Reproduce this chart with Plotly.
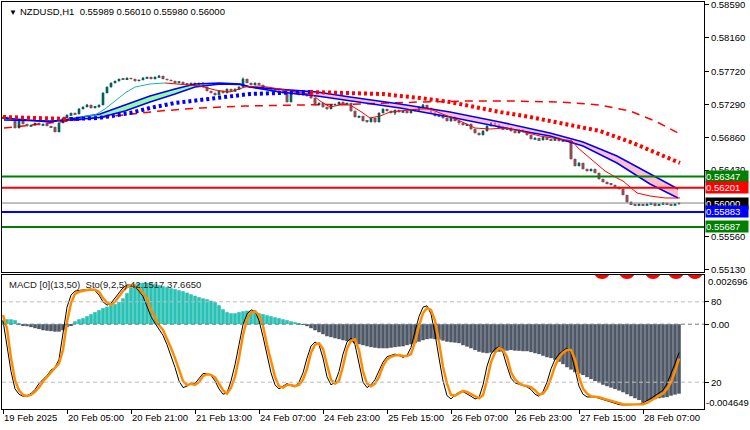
import plotly.graph_objects as go

# ---------------- data ----------------
time_tick_idx = [0, 16, 32, 48, 64, 80, 96, 112, 128, 144, 160]
time_tick_text = ["19 Feb 2025", "20 Feb 05:00", "20 Feb 21:00", "21 Feb 13:00",
                  "24 Feb 07:00", "24 Feb 23:00", "25 Feb 15:00", "26 Feb 07:00",
                  "26 Feb 23:00", "27 Feb 15:00", "28 Feb 07:00"]
price_ticks = [0.58590, 0.58160, 0.57720, 0.57290, 0.56860, 0.56430, 0.55560, 0.55130]

first_open = 0.57110
close = [
    0.57125, 0.57112, 0.57099, 0.56981, 0.57073, 0.57034, 0.57007, 0.57020, 0.57047, 0.57020,
    0.57034, 0.57007, 0.56994, 0.56929, 0.57047, 0.57112, 0.57151, 0.57177, 0.57164, 0.57230,
    0.57256, 0.57282, 0.57243, 0.57256, 0.57282, 0.57439, 0.57517, 0.57570, 0.57596, 0.57622,
    0.57615, 0.57635, 0.57622, 0.57596, 0.57609, 0.57635, 0.57648, 0.57622, 0.57648, 0.57661,
    0.57622, 0.57609, 0.57596, 0.57570, 0.57583, 0.57557, 0.57544, 0.57570, 0.57544, 0.57570,
    0.57517, 0.57465, 0.57439, 0.57413, 0.57465, 0.57439, 0.57491, 0.57465, 0.57491, 0.57517,
    0.57622, 0.57570, 0.57544, 0.57570, 0.57544, 0.57491, 0.57504, 0.57465, 0.57478, 0.57439,
    0.57465, 0.57321, 0.57452, 0.57426, 0.57413, 0.57439, 0.57400, 0.57374, 0.57282, 0.57308,
    0.57256, 0.57230, 0.57282, 0.57295, 0.57321, 0.57295, 0.57308, 0.57204, 0.57125, 0.57138,
    0.57073, 0.57060, 0.57112, 0.57060, 0.57177, 0.57230, 0.57204, 0.57177, 0.57217, 0.57190,
    0.57204, 0.57177, 0.57217, 0.57204, 0.57256, 0.57282, 0.57243, 0.57177, 0.57138, 0.57151,
    0.57112, 0.57073, 0.57125, 0.57073, 0.57047, 0.57020, 0.57034, 0.56968, 0.56916, 0.56890,
    0.56942, 0.57007, 0.57047, 0.57020, 0.56994, 0.56968, 0.56981, 0.56942, 0.56916, 0.56955,
    0.56929, 0.56890, 0.56837, 0.56850, 0.56824, 0.56863, 0.56837, 0.56824, 0.56850, 0.56811,
    0.56824, 0.56811, 0.56576, 0.56484, 0.56524, 0.56445, 0.56419, 0.56445, 0.56393, 0.56314,
    0.56275, 0.56249, 0.56236, 0.56210, 0.56183, 0.56105, 0.56013, 0.55987, 0.55974, 0.55987,
    0.55974, 0.55987, 0.56000, 0.55974, 0.55987, 0.56000, 0.55987, 0.55974, 0.55989, 0.56000,
]
# wick lengths beyond the body, in points (0.00001)
wick_up_pts = [
    5, 6, 4, 6, 8, 5, 4, 8, 5, 6,   6, 5, 4, 6, 10, 8, 8, 6, 8, 12,
    10, 14, 8, 10, 8, 10, 8, 8, 6, 6,   6, 8, 6, 6, 8, 12, 6, 6, 8, 14,
    6, 6, 8, 6, 6, 8, 6, 6, 8, 6,   12, 6, 6, 8, 6, 6, 8, 6, 8, 10,
    18, 8, 6, 8, 6, 6, 8, 6, 6, 6,   10, 14, 8, 6, 6, 8, 6, 6, 6, 8,
    6, 6, 8, 6, 6, 8, 6, 6, 8, 6,   6, 8, 6, 6, 10, 8, 6, 8, 6, 6,
    8, 6, 6, 8, 6, 14, 6, 6, 8, 6,   6, 8, 6, 6, 8, 6, 6, 8, 6, 6,
    10, 8, 6, 6, 8, 6, 6, 8, 6, 6,   8, 6, 6, 10, 6, 6, 8, 6, 12, 6,
    6, 8, 14, 8, 10, 6, 8, 6, 6, 8,   6, 8, 6, 6, 8, 6, 6, 10, 6, 8,
    6, 12, 8, 6, 6, 10, 6, 6, 8, 10,
]
wick_dn_pts = [
    6, 5, 6, 8, 6, 8, 10, 6, 8, 6,   8, 6, 10, 8, 6, 5, 6, 8, 6, 6,
    8, 6, 10, 6, 8, 6, 6, 8, 6, 8,   6, 6, 8, 10, 6, 6, 8, 6, 6, 8,
    6, 8, 6, 10, 6, 8, 6, 8, 6, 8,   10, 8, 6, 10, 6, 8, 6, 8, 6, 6,
    8, 6, 8, 6, 8, 10, 6, 8, 14, 6,   8, 10, 6, 8, 6, 8, 10, 12, 8, 6,
    10, 12, 6, 8, 6, 8, 6, 12, 10, 8,   10, 12, 6, 14, 8, 6, 8, 6, 24, 8,
    6, 8, 6, 8, 6, 6, 8, 10, 8, 6,   12, 8, 10, 6, 24, 8, 10, 12, 10, 8,
    6, 8, 6, 10, 8, 6, 8, 10, 6, 8,   8, 10, 8, 6, 10, 8, 6, 8, 6, 8,
    6, 8, 10, 8, 6, 8, 10, 6, 8, 10,   8, 6, 8, 10, 8, 6, 10, 8, 6, 8,
    10, 8, 6, 16, 8, 6, 8, 10, 6, 9,
]

# slow moving average drawn as big dots (trend +1 = blue, -1 = red)
dot_idx = [0, 9, 14, 16.75, 24, 31.75, 36.75, 43, 49.25, 55.5, 61.75, 69.25, 76.75,
           85.5, 95, 99.25, 104.25, 111.75, 120, 124.25, 131.75, 139.25, 149.25, 157.5, 163.5, 169.25]
dot_val = [0.57125, 0.57112, 0.57099, 0.57099, 0.57112, 0.57177, 0.57243, 0.57308, 0.57347, 0.57387,
           0.57426, 0.57439, 0.57452, 0.57439, 0.57426, 0.57400, 0.57374, 0.57321, 0.57230, 0.57190,
           0.57125, 0.57047, 0.56942, 0.56785, 0.56654, 0.56524]
dot_trend = [-1, -1, -1, 1, 1, 1, 1, 1, 1, 1, 1, 1, -1,
             -1, -1, -1, -1, -1, -1, -1, -1, -1, -1, -1, -1, -1]

# long dashed red moving average
dash_idx = [0.25, 14.25, 26.75, 39.25, 49.25, 60.5, 74.25, 89.25, 104.25, 116.75,
            126.75, 139.25, 149.25, 156.75, 163, 168.75]
dash_val = [0.56981, 0.57060, 0.57138, 0.57204, 0.57243, 0.57269, 0.57282, 0.57295, 0.57321, 0.57334,
            0.57334, 0.57321, 0.57282, 0.57204, 0.57073, 0.56916]

# blue moving-average band (fast / slow)
band_idx = [0.25, 6.75, 11.75, 16.75, 24.25, 30.5, 36.75, 43, 48, 54.25, 59.25, 61.75,
            69.25, 78.5, 86.75, 99.25, 111.75, 124.25, 136.75, 145, 153.5, 161.75, 168.75]
band_fast = [0.57112, 0.57080, 0.57060, 0.57099, 0.57164, 0.57282, 0.57400, 0.57491, 0.57557, 0.57570,
             0.57557, 0.57517, 0.57452, 0.57400, 0.57334, 0.57243, 0.57125, 0.56994, 0.56877, 0.56746,
             0.56524, 0.56249, 0.56066]
band_slow = [0.57086, 0.57080, 0.57073, 0.57086, 0.57118, 0.57204, 0.57321, 0.57426, 0.57517, 0.57557,
             0.57551, 0.57517, 0.57491, 0.57452, 0.57387, 0.57295, 0.57190, 0.57060, 0.56916, 0.56798,
             0.56615, 0.56380, 0.56183]

# thin fast moving average (trend +1 teal, -1 red)
fast_idx = [19.25, 23, 25.5, 28, 30.5, 33, 36.75, 40.5, 44.25, 49.25, 53, 56.75, 60.5, 64.25,
            69.25, 74.25, 77.5, 79.25, 81.75, 84.25, 86.75, 89.25, 91.75, 94.25, 96.75, 99.25,
            104.25, 106.75, 110.5, 114.25, 118, 121.75, 125.5, 129.25, 134.25, 139.25, 142.25,
            143.75, 147.5, 150.5, 153.5, 155, 158.5, 161.75, 165.5, 169.25]
fast_val = [0.57125, 0.57151, 0.57230, 0.57334, 0.57439, 0.57517, 0.57557, 0.57570, 0.57557, 0.57531,
            0.57478, 0.57452, 0.57517, 0.57531, 0.57491, 0.57439, 0.57413, 0.57334, 0.57256, 0.57282,
            0.57282, 0.57204, 0.57112, 0.57138, 0.57190, 0.57204, 0.57230, 0.57230, 0.57151, 0.57073,
            0.56981, 0.56968, 0.56981, 0.56942, 0.56877, 0.56837, 0.56811, 0.56720, 0.56550, 0.56419,
            0.56327, 0.56288, 0.56131, 0.56092, 0.56066, 0.56066]
fast_trend = [1, 1, 1, 1, 1, 1, 1, -1, -1, -1, -1, -1, -1, -1, -1, -1, -1, -1, -1, -1, -1, -1, -1,
              -1, -1, -1, -1, -1, -1, -1, -1, -1, -1, -1, -1, -1, -1, -1, -1, -1, -1, -1, -1, -1, -1, -1]

# horizontal price levels
levels = [0.56347, 0.56201, 0.56000, 0.55883, 0.55687]

# MACD histogram, one value per bar
macd_hist = [
    0.00022, 0.00027, 0.00027, 0.00022, 0.00005, -0.00005, -0.00011, -0.00016, -0.00022, -0.00027,
    -0.00033, -0.00036, -0.00038, -0.00041, -0.00041, -0.00033, -0.00016, -0.00005, 0.00016, 0.00027,
    0.00033, 0.00044, 0.00055, 0.00066, 0.00077, 0.00088, 0.00096, 0.00104, 0.00110, 0.00121,
    0.00142, 0.00170, 0.00203, 0.00219, 0.00225, 0.00227, 0.00227, 0.00225, 0.00219, 0.00214,
    0.00208, 0.00203, 0.00197, 0.00192, 0.00186, 0.00181, 0.00173, 0.00164, 0.00156, 0.00148,
    0.00142, 0.00137, 0.00129, 0.00121, 0.00104, 0.00082, 0.00066, 0.00060, 0.00060, 0.00066,
    0.00071, 0.00074, 0.00071, 0.00066, 0.00060, 0.00055, 0.00049, 0.00044, 0.00038, 0.00033,
    0.00027, 0.00022, 0.00016, 0.00011, 0.00005, -0.00003, -0.00011, -0.00022, -0.00033, -0.00044,
    -0.00055, -0.00066, -0.00071, -0.00077, -0.00082, -0.00088, -0.00093, -0.00099, -0.00104, -0.00110,
    -0.00115, -0.00121, -0.00126, -0.00129, -0.00132, -0.00132, -0.00132, -0.00129, -0.00126, -0.00123,
    -0.00121, -0.00115, -0.00110, -0.00104, -0.00096, -0.00088, -0.00082, -0.00079, -0.00082, -0.00085,
    -0.00090, -0.00096, -0.00099, -0.00101, -0.00104, -0.00115, -0.00123, -0.00132, -0.00142, -0.00151,
    -0.00156, -0.00159, -0.00156, -0.00153, -0.00151, -0.00148, -0.00145, -0.00142, -0.00145, -0.00146,
    -0.00148, -0.00148, -0.00153, -0.00159, -0.00164, -0.00173, -0.00181, -0.00186, -0.00195, -0.00206,
    -0.00219, -0.00236, -0.00249, -0.00263, -0.00271, -0.00279, -0.00290, -0.00301, -0.00312, -0.00323,
    -0.00332, -0.00340, -0.00348, -0.00356, -0.00364, -0.00373, -0.00384, -0.00395, -0.00406, -0.00416,
    -0.00430, -0.00422, -0.00416, -0.00411, -0.00406, -0.00403, -0.00400, -0.00392, -0.00386, -0.00381,
]
macd_max = 0.002696
macd_min = -0.004649

# Stochastic (9,2,5): main line and signal line, one value per bar
sto_main = [
    66, 48, 28, 15, 11, 9.5, 10, 11.5, 14.5, 19, 22, 25, 29, 31, 37, 58, 76, 85, 88, 88.5,
    89, 89.5, 89.5, 88.5, 85, 80, 77.5, 79, 83, 87, 90.5, 92.5, 92.5, 91, 88, 84, 77, 69, 64, 59.5,
    55, 48, 40, 31, 21, 16, 17, 19.5, 19, 23, 26.5, 26.5, 25, 21, 15, 11, 12, 21, 33, 48,
    63, 71, 74, 73, 66, 54, 40, 27, 18, 15, 17, 19, 17.5, 16.5, 20, 27, 38, 47, 50, 48,
    38, 24, 18, 20, 28, 41, 50, 53, 48, 33, 20, 16, 18, 22, 29, 35, 39, 40, 41, 40,
    38.5, 40, 46, 58, 69, 76, 77, 71, 56, 38, 21, 10, 7.5, 10.5, 12.5, 13, 11.5, 9.5, 7.5, 8.5,
    18, 32, 41, 45, 46.5, 42, 32, 23, 19.5, 18.5, 17.5, 16.5, 14.5, 11, 9.5, 13, 20, 30, 37, 41,
    43.5, 45.5, 42, 29, 17, 11, 9, 9, 9, 8, 7, 6, 5, 4, 3.3, 3, 3, 3, 3, 3.5,
    4.5, 6, 8, 10, 12, 14, 19, 26, 34, 42.1517,
]
sto_signal = [
    70, 60, 38, 21.5, 14, 10.5, 9.8, 10.5, 12.8, 16, 20.5, 24, 27, 30.3, 34, 44, 65, 79, 86, 87.5,
    88.2, 88.8, 89, 89, 87.5, 82.8, 79.5, 77.8, 80, 84, 88, 91, 92.2, 91.8, 90, 86.5, 82.8, 74, 68, 62.5,
    59, 52.8, 45.5, 38, 29, 21, 17.8, 18.8, 18, 20, 24.5, 26, 25.5, 23.5, 19, 14, 11.5, 16, 24, 38,
    55, 67, 72, 73, 70, 62, 48, 36, 24, 17, 16, 18, 18, 17, 18, 22, 30, 42, 48, 49,
    45, 33, 22, 19, 21, 32, 45, 51, 52, 44, 28, 19, 17, 19, 24, 32, 37, 39, 40, 40.3,
    39.5, 39.5, 41, 50, 62, 71.6, 75.3, 74, 66, 50, 31.5, 19, 10.5, 10, 11.5, 13.5, 12.8, 11, 9.5, 8,
    10.3, 21.5, 35, 42, 45.5, 44, 39, 27.5, 22, 19.3, 17.8, 17, 16.3, 14, 10.8, 11.5, 15.3, 23, 32, 38.5,
    42, 44, 44, 37, 24, 15.3, 11.5, 9.5, 9.2, 8.8, 7.8, 7, 6.2, 5, 4.2, 3.5, 3.4, 3.3, 3.3, 3.4,
    3.5, 4.5, 6, 8, 10, 11.5, 15, 20, 28, 37.665,
]
sto_levels = [80, 20]

# bar positions of the large red price glyphs just showing at the top of the lower window
glyph_idx = [149.75, 156, 162.5, 168.25, 173]

# ---------------- styling ----------------
FONT = "Liberation Sans"
FS = 9.5
BULL = "#20B2AA"
BEAR = "#696969"
BEAR_WICK = "#B8283C"
level_colors = ["#008000", "#FF0000", "#000000", "#0000FF", "#008000"]
line_colors = ["#008000", "#FF0000", "#808080", "#0000FF", "#008000"]
line_widths = [2, 2, 1, 2, 2]

N = len(close)
idx = list(range(N))
opens = [first_open] + close[:-1]
PT = 1e-5
highs = [max(o, c) + u * PT for o, c, u in zip(opens, close, wick_up_pts)]
lows = [min(o, c) - d * PT for o, c, d in zip(opens, close, wick_dn_pts)]
is_bull = [c >= o for o, c in zip(opens, close)]

fig = go.Figure()

# band fill, segment by segment
for k in range(len(band_idx) - 1):
    up = (band_fast[k] + band_fast[k + 1]) >= (band_slow[k] + band_slow[k + 1])
    fig.add_trace(go.Scatter(
        x=[band_idx[k], band_idx[k + 1], band_idx[k + 1], band_idx[k]],
        y=[band_fast[k], band_fast[k + 1], band_slow[k + 1], band_slow[k]],
        fill="toself", fillcolor="#98FB98" if up else "#FFC0CB",
        line=dict(width=0), mode="lines", xaxis="x2", yaxis="y", hoverinfo="skip"))

# long dashed red average
fig.add_trace(go.Scatter(x=dash_idx, y=dash_val, mode="lines", xaxis="x2", yaxis="y",
                         line=dict(color="#FF0000", width=1.5, dash="8px,6px")))

# candles: wicks then bodies
def wick_xy(mask):
    xs, ys = [], []
    for i in idx:
        if mask[i]:
            xs += [i, i, None]
            ys += [lows[i], highs[i], None]
    return xs, ys

wx, wy = wick_xy(is_bull)
fig.add_trace(go.Scatter(x=wx, y=wy, mode="lines", line=dict(color="#000000", width=1),
                         xaxis="x2", yaxis="y", hoverinfo="skip"))
wx, wy = wick_xy([not b for b in is_bull])
fig.add_trace(go.Scatter(x=wx, y=wy, mode="lines", line=dict(color=BEAR_WICK, width=1),
                         xaxis="x2", yaxis="y", hoverinfo="skip"))
fig.add_trace(go.Bar(
    x=idx, y=[max(abs(c - o), 0.00008) for o, c in zip(opens, close)],
    base=[min(o, c) for o, c in zip(opens, close)], width=0.75,
    marker=dict(color=[BULL if b else BEAR for b in is_bull], line=dict(width=0)),
    xaxis="x2", yaxis="y", hoverinfo="skip"))

# band lines
for arr in (band_fast, band_slow):
    fig.add_trace(go.Scatter(x=band_idx, y=arr, mode="lines", xaxis="x2", yaxis="y",
                             line=dict(color="#0000FF", width=1.6)))

# thin fast average, coloured by trend
def trend_segments(tr):
    segs, cur = [], [0]
    for k in range(1, len(tr)):
        cur.append(k)
        if tr[k] != tr[cur[0]]:
            segs.append((tr[cur[0]], cur))
            cur = [k]
    segs.append((tr[cur[0]], cur))
    return segs

for t, ks in trend_segments(fast_trend):
    fig.add_trace(go.Scatter(x=[fast_idx[k] for k in ks], y=[fast_val[k] for k in ks],
                             mode="lines", xaxis="x2", yaxis="y",
                             line=dict(color="#20B2AA" if t > 0 else "#FF0000", width=1)))

for t, ks in trend_segments(dot_trend):
    fig.add_trace(go.Scatter(x=[dot_idx[k] for k in ks], y=[dot_val[k] for k in ks],
                             mode="lines", xaxis="x2", yaxis="y",
                             line=dict(color="#0000FF" if t > 0 else "#FF0000", width=4, dash="3px,3px")))

# ---- lower panel ----
fig.add_trace(go.Bar(x=idx, y=macd_hist, width=0.9,
                     marker=dict(color=["#2BC2B6" if v >= 0 else "#4E5866" for v in macd_hist],
                                 line=dict(width=0)),
                     xaxis="x", yaxis="y3", hoverinfo="skip"))
fig.add_trace(go.Scatter(x=idx, y=sto_main, mode="lines", xaxis="x", yaxis="y4",
                         line=dict(color="#000000", width=1), hoverinfo="skip"))
fig.add_trace(go.Scatter(x=idx, y=sto_signal, mode="lines", xaxis="x", yaxis="y4",
                         line=dict(color="#FF8C00", width=2.5), hoverinfo="skip"))

shapes = []
for lv, lc, lw in zip(levels, line_colors, line_widths):
    shapes.append(dict(type="line", xref="x2 domain", x0=0, x1=1, yref="y", y0=lv, y1=lv,
                       line=dict(color=lc, width=lw)))
for lv in sto_levels:
    shapes.append(dict(type="line", xref="x domain", x0=0, x1=1, yref="y4", y0=lv, y1=lv,
                       line=dict(color="#BDBDBD", width=1, dash="4px,3px")))
shapes.append(dict(type="line", xref="x domain", x0=0, x1=1, yref="y3", y0=0, y1=0,
                   line=dict(color="#6C7A88", width=1, dash="4px,3px")))
# red glyph tops, clipped by the lower window's top edge
for g in glyph_idx:
    shapes.append(dict(type="circle", xref="x", yref="y3", x0=g - 2.4, x1=g + 2.4,
                       y0=macd_max - 0.00022, y1=macd_max + 0.0011,
                       fillcolor="#FF0000", line=dict(width=0), layer="below"))

annotations = []
for lv, bc in zip(levels, level_colors):
    annotations.append(dict(xref="paper", x=1, xanchor="left", xshift=1, yref="y", y=lv,
                            text=f"{lv:.5f}", showarrow=False, bgcolor=bc, width=42, height=11,
                            borderpad=0, align="left", font=dict(family=FONT, size=FS, color="#FFFFFF")))
annotations.append(dict(xref="paper", x=1, xanchor="left", xshift=2, yref="y3", y=macd_max,
                        yanchor="top", yshift=1, text=f"{macd_max:.6f}", showarrow=False,
                        font=dict(family=FONT, size=FS, color="#000000")))
annotations.append(dict(xref="paper", x=1, xanchor="left", xshift=0, yref="y3", y=macd_min,
                        yanchor="bottom", yshift=-1, text=f"{macd_min:.6f}", showarrow=False,
                        font=dict(family=FONT, size=FS, color="#000000")))
annotations.append(dict(xref="paper", yref="paper", x=0, y=1, xanchor="left", yanchor="top",
                        xshift=5, yshift=-4, text="▼", showarrow=False,
                        font=dict(family=FONT, size=8, color="#000000")))
annotations.append(dict(xref="paper", yref="paper", x=0, y=1, xanchor="left", yanchor="top",
                        xshift=16, yshift=-2,
                        text=f"NZDUSD,H1  {opens[-1]:.5f} {highs[-1]:.5f} {lows[-1]:.5f} {close[-1]:.5f}",
                        showarrow=False, font=dict(family=FONT, size=FS, color="#000000")))
annotations.append(dict(xref="paper", yref="paper", x=0, y=0.3292, xanchor="left", yanchor="top",
                        xshift=5, yshift=-2,
                        text=f"MACD [0](13,50)  Sto(9,2,5) {sto_main[-1]:.4f} {sto_signal[-1]:.4f}",
                        showarrow=False, font=dict(family=FONT, size=FS, color="#202020")))

axis_common = dict(showgrid=False, zeroline=False, showline=True, linecolor="#000000",
                   linewidth=1, mirror=True, automargin=False)
fig.update_layout(
    width=750, height=430, margin=dict(l=2, r=46, t=2, b=21, autoexpand=False),
    paper_bgcolor="#FFFFFF", plot_bgcolor="rgba(0,0,0,0)", showlegend=False, barmode="overlay",
    font=dict(family=FONT, size=FS, color="#000000"),
    xaxis=dict(domain=[0, 1], anchor="y3", range=[-0.25, 175.25], tickvals=time_tick_idx,
               ticktext=time_tick_text, ticks="outside", ticklen=4, tickcolor="#000000", tickangle=0,
               ticklabelposition="outside right", ticklabeloverflow="allow",
               tickfont=dict(family=FONT, size=FS), **axis_common),
    xaxis2=dict(domain=[0, 1], anchor="y", matches="x", showticklabels=False, ticks="", **axis_common),
    yaxis=dict(domain=[0.3366, 1], anchor="x2", side="right", range=[0.55098, 0.58629],
               tickvals=price_ticks, ticktext=[f"{v:.5f}" for v in price_ticks], ticks="outside",
               ticklen=4, tickcolor="#000000", ticklabeloverflow="allow",
               tickfont=dict(family=FONT, size=FS), **axis_common),
    yaxis3=dict(domain=[0, 0.3292], anchor="x", side="right", range=[macd_min, macd_max],
                tickvals=[0], ticktext=["0.00"], ticks="outside", ticklen=4, tickcolor="#000000",
                ticklabeloverflow="allow", tickfont=dict(family=FONT, size=FS), **axis_common),
    yaxis4=dict(domain=[0, 0.3292], anchor="x", overlaying="y3", side="right", range=[0, 100],
                tickvals=sto_levels, ticktext=[str(v) for v in sto_levels], ticks="outside",
                ticklen=4, tickcolor="#000000", showgrid=False, zeroline=False, showline=False,
                automargin=False, ticklabeloverflow="allow", tickfont=dict(family=FONT, size=FS)),
    shapes=shapes, annotations=annotations,
)

fig.write_html("out.html")
